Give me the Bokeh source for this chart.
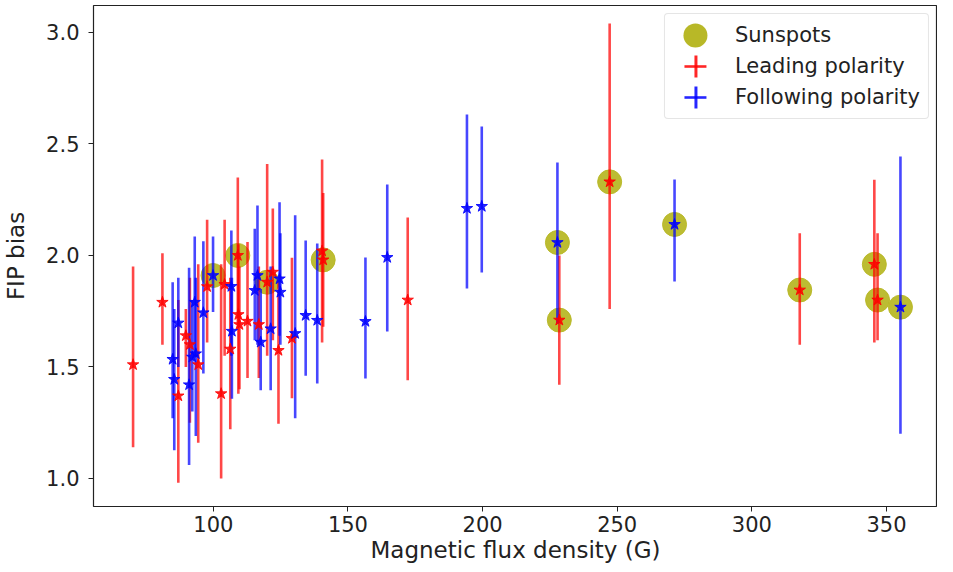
from bokeh.plotting import figure
from bokeh.models import ColumnDataSource, FixedTicker, PrintfTickFormatter, Legend, LegendItem, Range1d
from bokeh.embed import file_html
from bokeh.resources import INLINE

# Leading polarity (red)
lead_x = [70.2, 81.1, 87.0, 89.8, 91.3, 94.4, 97.7, 102.9, 104.2, 106.3, 109.1, 109.3, 109.7, 112.7,
          116.9, 120.0, 122.1, 124.2, 129.2, 140.4, 140.8, 172.2, 228.5, 247.2, 317.8, 345.5, 346.7]
lead_y = [1.51, 1.79, 1.37, 1.64, 1.60, 1.51, 1.86, 1.38, 1.87, 1.58, 2.00, 1.735, 1.69, 1.705,
          1.69, 1.88, 1.925, 1.574, 1.628, 2.02, 1.98, 1.80, 1.71, 2.33, 1.845, 1.96, 1.80]
lead_lo = [1.14, 1.60, 0.98, 1.50, 1.25, 1.16, 1.61, 1.00, 1.55, 1.22, 1.70, 1.38, 1.40, 1.45,
           1.45, 1.55, 1.62, 1.245, 1.36, 1.61, 1.68, 1.44, 1.42, 1.76, 1.60, 1.61, 1.62]
lead_hi = [1.95, 2.01, 1.80, 1.76, 1.90, 1.96, 2.16, 1.96, 2.16, 1.90, 2.35, 2.05, 1.95, 2.06,
           1.95, 2.41, 2.21, 1.89, 1.99, 2.43, 2.28, 2.17, 2.00, 3.04, 2.10, 2.34, 2.10]

# Following polarity (blue)
foll_x = [84.9, 85.5, 87.0, 91.0, 93.1, 93.5, 92.2, 96.3, 99.9, 106.7, 106.9, 115.4, 116.4, 117.6,
          121.3, 124.6, 124.9, 130.4, 134.3, 138.6, 156.5, 164.6, 194.2, 199.7, 227.8, 271.3, 355.2]
foll_y = [1.534, 1.444, 1.697, 1.42, 1.79, 1.559, 1.544, 1.743, 1.91, 1.861, 1.66, 1.843, 1.91, 1.611,
          1.671, 1.895, 1.835, 1.65, 1.731, 1.709, 1.704, 1.991, 2.211, 2.22, 2.058, 2.139, 1.768]
foll_lo = [1.27, 1.126, 1.50, 1.06, 1.55, 1.19, 1.30, 1.47, 1.746, 1.55, 1.357, 1.62, 1.60, 1.395,
           1.395, 1.64, 1.60, 1.27, 1.46, 1.426, 1.448, 1.659, 1.852, 1.924, 1.695, 1.883, 1.20]
foll_hi = [1.88, 1.76, 1.90, 1.945, 2.085, 1.90, 1.80, 2.064, 2.085, 2.112, 1.90, 2.12, 2.224, 1.85,
           1.95, 2.239, 2.10, 2.18, 2.067, 2.054, 1.991, 2.318, 2.632, 2.578, 2.417, 2.341, 2.444]

# Sunspots
spot_x = [99.9, 109.1, 120.0, 140.8, 227.8, 228.5, 247.2, 271.3, 317.8, 345.5, 346.7, 355.2]
spot_y = [1.91, 2.00, 1.88, 1.98, 2.058, 1.71, 2.33, 2.139, 1.845, 1.96, 1.80, 1.768]

x_ticks = [100, 150, 200, 250, 300, 350]
y_ticks = [1.0, 1.5, 2.0, 2.5, 3.0]

FONT = "DejaVu Sans"
TXT = "#222222"

p = figure(width=937, height=570, output_backend="svg", toolbar_location=None,
           x_range=Range1d(55.5, 368.96), y_range=Range1d(0.874, 3.121),
           min_border_left=80, min_border_right=0, min_border_top=5, min_border_bottom=64)
p.grid.visible = False
p.outline_line_color = TXT
p.outline_line_width = 1.2
p.background_fill_color = "white"

for ax in (p.xaxis, p.yaxis):
    ax.major_label_text_font = FONT
    ax.major_label_text_font_size = "21px"
    ax.major_label_text_color = TXT
    ax.axis_label_text_font = FONT
    ax.axis_label_text_font_size = "23px"
    ax.axis_label_text_font_style = "normal"
    ax.axis_label_text_color = TXT
    ax.minor_tick_line_color = None
    ax.major_tick_out = 5
    ax.major_tick_in = 0
    ax.axis_line_color = None
    ax.major_tick_line_color = TXT

p.xaxis.major_label_standoff = 4
p.xaxis.axis_label_standoff = 2
p.yaxis.major_label_standoff = 9
p.yaxis.axis_label_standoff = 14

p.xaxis.ticker = FixedTicker(ticks=x_ticks)
p.yaxis.ticker = FixedTicker(ticks=y_ticks)
p.yaxis.formatter = PrintfTickFormatter(format="%.1f")
p.xaxis.axis_label = "Magnetic flux density (G)"
p.yaxis.axis_label = "FIP bias"

spot_src = ColumnDataSource(dict(x=spot_x, y=spot_y))
lead_src = ColumnDataSource(dict(x=lead_x, y=lead_y, lo=lead_lo, hi=lead_hi))
foll_src = ColumnDataSource(dict(x=foll_x, y=foll_y, lo=foll_lo, hi=foll_hi))

OLIVE = "#b8b827"
p.scatter("x", "y", source=spot_src, marker="circle", size=24,
          fill_color=OLIVE, line_color=OLIVE, fill_alpha=0.95, line_alpha=0.95)

p.segment(x0="x", y0="lo", x1="x", y1="hi", source=lead_src, line_color="red", line_width=2.6, line_alpha=0.72)
p.segment(x0="x", y0="lo", x1="x", y1="hi", source=foll_src, line_color="blue", line_width=2.6, line_alpha=0.72)
p.scatter("x", "y", source=lead_src, marker="star", size=12, fill_color="red", line_color="red", alpha=0.85)
p.scatter("x", "y", source=foll_src, marker="star", size=12, fill_color="blue", line_color="blue", alpha=0.85)

# legend-only proxies (never visible in the plot area: NaN data)
nan = float("nan")
proxy = ColumnDataSource(dict(x=[nan, nan], y=[nan, nan]))
GW = 44  # legend glyph box width
# round dot of diameter 24 at box centre (zero-length dash with round cap)
lg_spot = p.line("x", "y", source=proxy, line_color=OLIVE, line_width=24, line_cap="round",
                 line_dash="0 1000", line_dash_offset=1000 - GW // 2)

def cross(color):
    h = p.line("x", "y", source=proxy, line_color=color, line_width=2.6, line_alpha=0.85,
               line_cap="butt", line_dash="22 1000", line_dash_offset=1022 - (GW // 2 - 11))
    v = p.line("x", "y", source=proxy, line_color=color, line_width=22, line_alpha=0.85,
               line_cap="butt", line_dash="3 1000", line_dash_offset=1003 - (GW // 2 - 1))
    return [h, v]

legend = Legend(items=[LegendItem(label="Sunspots", renderers=[lg_spot]),
                       LegendItem(label="Leading polarity", renderers=cross("red")),
                       LegendItem(label="Following polarity", renderers=cross("blue"))],
                location="top_right")
legend.label_text_font = FONT
legend.label_text_font_size = "21px"
legend.label_text_color = TXT
legend.glyph_width = GW
legend.glyph_height = 26
legend.label_height = 26
legend.label_standoff = 18
legend.spacing = 5
legend.padding = 8
legend.margin = 8
legend.border_line_color = "#cccccc"
legend.border_line_width = 1.2
legend.background_fill_alpha = 0.85
try:
    legend.border_radius = 4
except Exception:
    pass
p.add_layout(legend)

open("out.html", "w").write(file_html(p, INLINE))
